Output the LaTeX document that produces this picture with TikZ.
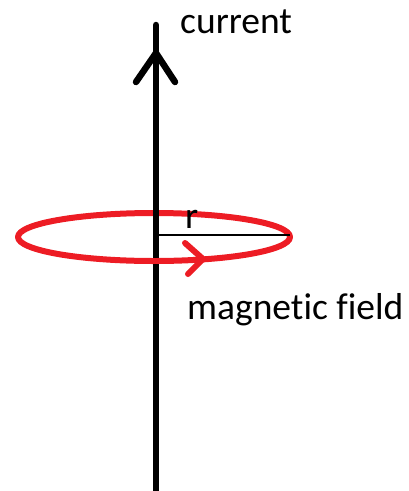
\documentclass[tikz,border=0pt]{standalone}
\usepackage{fontspec}
\setmainfont[Ligatures=NoCommon]{Carlito}
\definecolor{paintred}{HTML}{ED1C24}
\begin{document}
\begin{tikzpicture}[x=1pt,y=-1pt,
  wire/.style={line width=6.5pt,line cap=round,line join=round,black},
  loop/.style={line width=6pt,paintred,line cap=round,line join=round},
  lbl/.style={inner sep=0pt,anchor=base west,font=\fontsize{37.5}{40}\selectfont,text=black},
  rad/.style={line width=2.5pt,black}]
\useasboundingbox (0,0) rectangle (409,491);
\coordinate (center) at (154,237);
\coordinate (top) at (156,25);
\coordinate (bot) at (156,495);
\coordinate (tip) at (156,53);
\coordinate (hl) at (136,82);
\coordinate (hr) at (175,82);
\coordinate (axis) at (156,235);
\coordinate (rim) at (290,235);
\coordinate (ctip) at (203,259);
\coordinate (cu) at (185,243);
\coordinate (cl) at (188,274);
% ellipse (back)
\draw[loop] (center) ellipse [x radius=136, y radius=24];
% radius
\draw[rad] (axis) -- (rim);
% wire
\draw[wire] (top) -- (bot);
\draw[wire] (hl) -- (tip) -- (hr);
% front part of the loop over the wire
\draw[loop,line cap=butt] ([shift={(0,24)}]center) ++(-12,-0.3) -- ++(24,0);
% chevron
\draw[loop] (cu) -- (ctip) -- (cl);
% labels
\node[lbl] (cur) at (180,33) {current};
\node[lbl] (r) at (185,228) {r};
\node[lbl] (mf) at (187,319) {magnetic field};
\end{tikzpicture}
\end{document}
